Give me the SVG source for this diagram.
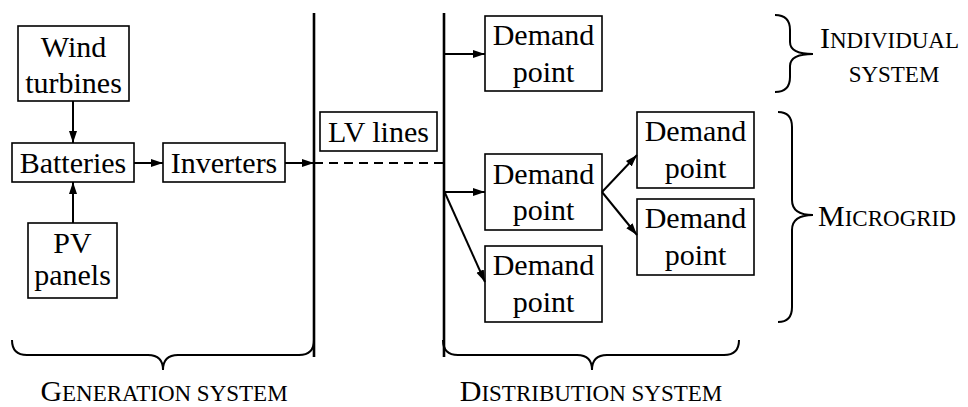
<svg xmlns="http://www.w3.org/2000/svg" width="968" height="407" viewBox="0 0 968 407">
<defs>
<marker id="ah" markerWidth="13" markerHeight="9" refX="12" refY="4" orient="auto" markerUnits="userSpaceOnUse">
<path d="M0,0 L12,4 L0,8 z" fill="#000"/>
</marker>
</defs>
<g id="buses" stroke="#000" stroke-width="2.6" fill="none">
<line x1="314" y1="13" x2="314" y2="357"/>
<line x1="444" y1="13" x2="444" y2="357"/>
</g>
<g id="wind"><rect x="18" y="26" width="111" height="75" fill="#fff" stroke="#000" stroke-width="1.6"/><text font-family="Liberation Serif" font-size="30" text-anchor="middle" x="73.5" y="57">Wind</text><text font-family="Liberation Serif" font-size="30" text-anchor="middle" x="73.5" y="93">turbines</text></g>
<g id="batteries"><rect x="12" y="143" width="122" height="39" fill="#fff" stroke="#000" stroke-width="1.6"/><text font-family="Liberation Serif" font-size="30" text-anchor="middle" x="73" y="173">Batteries</text></g>
<g id="inverters"><rect x="163" y="143" width="122" height="39" fill="#fff" stroke="#000" stroke-width="1.6"/><text font-family="Liberation Serif" font-size="30" text-anchor="middle" x="224" y="173">Inverters</text></g>
<g id="pv"><rect x="28" y="223" width="89" height="75" fill="#fff" stroke="#000" stroke-width="1.6"/><text font-family="Liberation Serif" font-size="30" text-anchor="middle" x="72.5" y="253">PV</text><text font-family="Liberation Serif" font-size="30" text-anchor="middle" x="72.5" y="285">panels</text></g>
<g id="lv"><rect x="320" y="112" width="117" height="39" fill="#fff" stroke="#000" stroke-width="1.6"/><text font-family="Liberation Serif" font-size="30" text-anchor="middle" x="378.5" y="142">LV lines</text></g>
<g id="dp1"><rect x="485" y="16" width="117" height="75" fill="#fff" stroke="#000" stroke-width="1.6"/><text font-family="Liberation Serif" font-size="30" text-anchor="middle" x="543.5" y="45">Demand</text><text font-family="Liberation Serif" font-size="30" text-anchor="middle" x="543.5" y="82">point</text></g>
<g id="dp2"><rect x="485" y="154" width="117" height="76" fill="#fff" stroke="#000" stroke-width="1.6"/><text font-family="Liberation Serif" font-size="30" text-anchor="middle" x="543.5" y="184">Demand</text><text font-family="Liberation Serif" font-size="30" text-anchor="middle" x="543.5" y="220">point</text></g>
<g id="dp3"><rect x="485" y="246" width="117" height="76" fill="#fff" stroke="#000" stroke-width="1.6"/><text font-family="Liberation Serif" font-size="30" text-anchor="middle" x="543.5" y="275">Demand</text><text font-family="Liberation Serif" font-size="30" text-anchor="middle" x="543.5" y="312">point</text></g>
<g id="dp4"><rect x="637" y="112" width="117" height="76" fill="#fff" stroke="#000" stroke-width="1.6"/><text font-family="Liberation Serif" font-size="30" text-anchor="middle" x="695.5" y="141">Demand</text><text font-family="Liberation Serif" font-size="30" text-anchor="middle" x="695.5" y="178">point</text></g>
<g id="dp5"><rect x="637" y="199" width="117" height="76" fill="#fff" stroke="#000" stroke-width="1.6"/><text font-family="Liberation Serif" font-size="30" text-anchor="middle" x="695.5" y="228">Demand</text><text font-family="Liberation Serif" font-size="30" text-anchor="middle" x="695.5" y="265">point</text></g>
<g id="connectors" stroke="#000" stroke-width="2" fill="none">
<line x1="73" y1="101" x2="73" y2="143" marker-end="url(#ah)"/>
<line x1="73" y1="223" x2="73" y2="182" marker-end="url(#ah)"/>
<line x1="134" y1="163" x2="163" y2="163" marker-end="url(#ah)"/>
<line x1="285" y1="163" x2="314" y2="163" marker-end="url(#ah)"/>
<line x1="314" y1="163" x2="444" y2="163" stroke-dasharray="9,6"/>
<line x1="444" y1="54" x2="485" y2="54" marker-end="url(#ah)"/>
<line x1="444" y1="192" x2="485" y2="192" marker-end="url(#ah)"/>
<line x1="445" y1="193" x2="485" y2="282" marker-end="url(#ah)"/>
<line x1="602" y1="192" x2="637" y2="155" marker-end="url(#ah)"/>
<line x1="602" y1="192" x2="637" y2="235" marker-end="url(#ah)"/>
</g>
<g id="brace-individual">
<path d="M775,15 Q790,15 790,30 V42 Q790,54 813,54 Q790,54 790,66 V77 Q790,92 775,92" stroke="#000" stroke-width="2" fill="none"/>
<text font-family="Liberation Serif" font-size="23" x="820" y="48"><tspan font-size="30">I</tspan>NDIVIDUAL</text>
<text font-family="Liberation Serif" font-size="23" x="894" y="82" text-anchor="middle">SYSTEM</text>
</g>
<g id="brace-microgrid">
<path d="M778,112 Q792,112 792,127 V200 Q792,215 813,215 Q792,215 792,230 V307 Q792,322 778,322" stroke="#000" stroke-width="2" fill="none"/>
<text font-family="Liberation Serif" font-size="23" x="818" y="226"><tspan font-size="30">M</tspan>ICROGRID</text>
</g>
<g id="brace-generation">
<path d="M12,340 Q12,355 27,355 H148 Q163,355 163,370 Q163,355 178,355 H299 Q314,355 314,340" stroke="#000" stroke-width="2" fill="none"/>
<text font-family="Liberation Serif" font-size="23" x="164" y="401" text-anchor="middle"><tspan font-size="30">G</tspan>ENERATION SYSTEM</text>
</g>
<g id="brace-distribution">
<path d="M443,340 Q443,355 458,355 H577 Q592,355 592,370 Q592,355 607,355 H724 Q739,355 739,340" stroke="#000" stroke-width="2" fill="none"/>
<text font-family="Liberation Serif" font-size="23" x="591" y="401" text-anchor="middle"><tspan font-size="30">D</tspan>ISTRIBUTION SYSTEM</text>
</g>
</svg>
